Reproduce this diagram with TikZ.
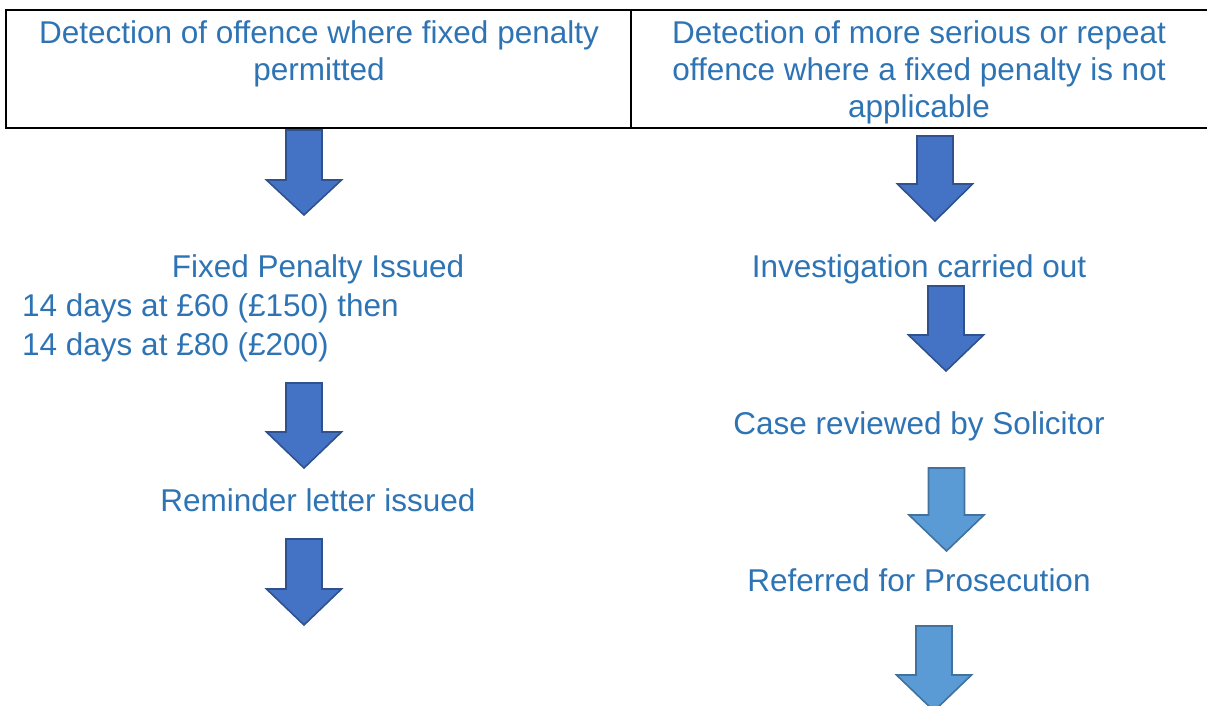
\documentclass[tikz,border=0pt]{standalone}
\usepackage{fontspec}
\setmainfont{Liberation Sans}
\definecolor{txtblue}{HTML}{2E74B5}
\definecolor{darkfill}{HTML}{4472C4}
\definecolor{darkline}{HTML}{2F528F}
\definecolor{lightfill}{HTML}{5B9BD5}
\definecolor{lightline}{HTML}{41719C}
% #1 style, #2 centre x, #3 top, #4 head base, #5 tip
\newcommand{\dnblockarrow}[5]{%
  \draw[#1] (#2-18,#3) -- (#2+18,#3) -- (#2+18,#4) -- (#2+37.5,#4) -- (#2,#5)
    -- (#2-37.5,#4) -- (#2-18,#4) -- cycle;}
\begin{document}
\begin{tikzpicture}[x=1pt,y=-1pt,
  lbl/.style={font=\fontsize{31.5}{39}\selectfont, text=txtblue, inner sep=0pt, anchor=base},
  hdr/.style={lbl, align=center, font=\fontsize{31.5}{37}\selectfont},
  darkarrow/.style={fill=darkfill, draw=darkline, line width=1.6pt, line join=miter},
  lightarrow/.style={fill=lightfill, draw=lightline, line width=1.6pt, line join=miter},
  tbl/.style={draw=black, line width=2.4pt}]
\useasboundingbox (0,0) rectangle (1207,706);
% table
\draw[tbl] (1207,10) -- (6,10) -- (6,128) -- (1207,128);
\draw[tbl] (631,10) -- (631,128);
% header texts (base anchor = baseline of last line)
\node[hdr] (h1) at (319,81) {Detection of offence where fixed penalty\\permitted};
\node[hdr] (h2) at (919,118) {Detection of more serious or repeat\\offence where a fixed penalty is not\\applicable};
% left column
\dnblockarrow{darkarrow}{304}{130}{180}{215}
\node[lbl] (fp) at (318,277) {Fixed Penalty Issued};
\node[lbl, anchor=base west] (d1) at (22,316) {14 days at £60 (£150) then};
\node[lbl, anchor=base west] (d2) at (22,355) {14 days at £80 (£200)};
\dnblockarrow{darkarrow}{304}{383}{432}{468}
\node[lbl] (rl) at (318,511) {Reminder letter issued};
\dnblockarrow{darkarrow}{304}{539}{589}{625}
% right column
\dnblockarrow{darkarrow}{935}{136}{184}{221}
\node[lbl] (inv) at (919,277) {Investigation carried out};
\dnblockarrow{darkarrow}{946}{286}{335}{371}
\node[lbl] (cr) at (919,434) {Case reviewed by Solicitor};
\dnblockarrow{lightarrow}{946.5}{468}{515}{551}
\node[lbl] (rp) at (919,591) {Referred for Prosecution};
\dnblockarrow{lightarrow}{934}{626}{675}{711}
\end{tikzpicture}
\end{document}
